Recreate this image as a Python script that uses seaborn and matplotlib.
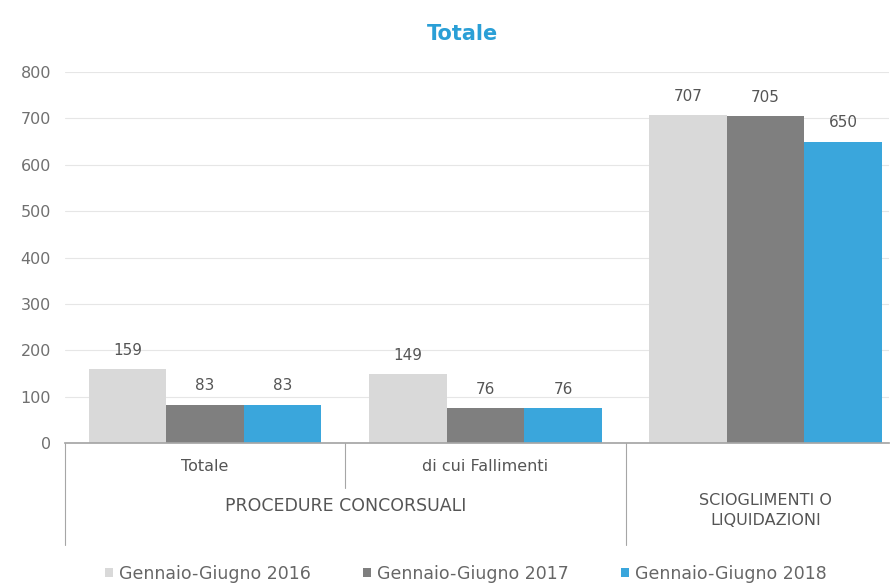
import matplotlib
matplotlib.use("Agg")
import matplotlib.pyplot as plt
import seaborn as sns
import pandas as pd
from matplotlib.patches import Patch

categories = ["Totale", "di cui Fallimenti", "SCIOGLIMENTI O\nLIQUIDAZIONI"]
series = ["Gennaio-Giugno 2016", "Gennaio-Giugno 2017", "Gennaio-Giugno 2018"]
v2016 = [159, 149, 707]
v2017 = [83, 76, 705]
v2018 = [83, 76, 650]
colors = ["#d9d9d9", "#7f7f7f", "#3aa6dc"]

rows = []
for s, vals in zip(series, [v2016, v2017, v2018]):
    for c, v in zip(categories, vals):
        rows.append({"cat": c, "serie": s, "val": v})
df = pd.DataFrame(rows)

sns.set_theme(style="white")
plt.rcParams["font.family"] = ["DejaVu Sans"]

txt = "#555555"
fig = plt.figure(figsize=(8.91, 5.84), dpi=100)
ax = fig.add_axes([65/891, 141/584, 824/891, 371/584])
sns.barplot(data=df, x="cat", y="val", hue="serie", palette=colors,
            width=0.83, gap=0, ax=ax, legend=False, saturation=1, linewidth=0)

for cont in ax.containers:
    ax.bar_label(cont, fmt="%d", padding=8, fontsize=11, color=txt)

ax.set_ylim(0, 800)
ax.set_yticks(range(0, 801, 100))
ax.yaxis.grid(True, color="#e6e6e6", linewidth=0.8)
ax.set_axisbelow(True)
for sp in ["left", "right", "top"]:
    ax.spines[sp].set_visible(False)
ax.spines["bottom"].set_color("#a6a6a6")
ax.tick_params(axis="y", colors="#707070", labelsize=11.5, length=0, pad=10)
ax.set_xlabel("")
ax.set_ylabel("")
ax.set_xlim(-0.5, 2.44)
ax.set_xticks([])

trans = ax.get_xaxis_transform()
for x, y0 in [(-0.5, -0.275), (0.5, -0.12), (1.5, -0.275)]:
    ax.plot([x, x], [0, y0], transform=trans, color="#a6a6a6", lw=0.8, clip_on=False)
ax.text(0, -0.062, "Totale", transform=trans, ha="center", va="center", fontsize=11.5, color=txt)
ax.text(1, -0.062, "di cui Fallimenti", transform=trans, ha="center", va="center", fontsize=11.5, color=txt)
ax.text(0.5, -0.17, "PROCEDURE CONCORSUALI", transform=trans, ha="center", va="center", fontsize=12.5, color=txt)
ax.text(2, -0.182, "SCIOGLIMENTI O\nLIQUIDAZIONI", transform=trans, ha="center", va="center",
        fontsize=11.5, color=txt, linespacing=1.4)

fig.text(463/891, 1 - 34/584, "Totale", ha="center", va="center", fontsize=15, fontweight="bold", color="#2a9fd6")

handles = [Patch(facecolor=c, edgecolor="none") for c in colors]
fig.legend(handles, series, loc="center", bbox_to_anchor=(466/891, 1 - 574/584), ncol=3, frameon=False,
           fontsize=12.5, labelcolor="#666666", handlelength=0.45, handleheight=0.45, handletextpad=0.35,
           columnspacing=3.0, borderpad=0)

fig.savefig("out.png", dpi=100)
